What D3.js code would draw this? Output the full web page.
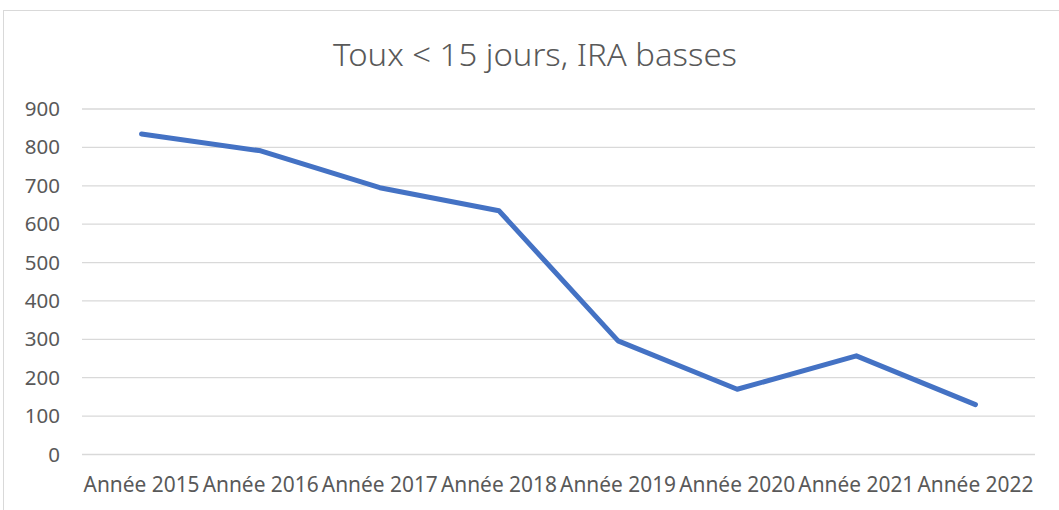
<!DOCTYPE html>
<html>
<head>
<meta charset="utf-8">
<script src="https://cdn.jsdelivr.net/npm/d3@7"></script>
<style>
  html, body { margin: 0; padding: 0; background: #fff; }
  svg { display: block; }
</style>
</head>
<body>
<svg id="chart" width="1059" height="510"></svg>
<script>
// Data
const categories = ["Année 2015", "Année 2016", "Année 2017", "Année 2018",
                    "Année 2019", "Année 2020", "Année 2021", "Année 2022"];
const values = [835, 791, 695, 635, 296, 170, 257, 130];
const yTicks = [0, 100, 200, 300, 400, 500, 600, 700, 800, 900];
const title = "Toux < 15 jours, IRA basses";

const svg = d3.select("#chart");
const W = 1059, H = 510;
const margin = { left: 82, right: 24, top: 109, bottom: 55.5 };
const font = "'Noto Sans', 'Open Sans', sans-serif";
const textColor = "#595959";

// Chart frame
svg.append("rect")
  .attr("x", 3.5).attr("y", 10.5)
  .attr("width", 1100).attr("height", 600)
  .attr("fill", "#fff").attr("stroke", "#d9d9d9").attr("stroke-width", 1);

const x = d3.scaleBand()
  .domain(categories)
  .range([margin.left, W - margin.right])
  .paddingInner(0).paddingOuter(0);

const y = d3.scaleLinear()
  .domain([0, 900])
  .range([H - margin.bottom, margin.top]);

// Gridlines
svg.append("g")
  .selectAll("line")
  .data(yTicks)
  .join("line")
  .attr("x1", margin.left).attr("x2", W - margin.right)
  .attr("y1", d => y(d)).attr("y2", d => y(d))
  .attr("stroke", "#d9d9d9").attr("stroke-width", 1.3);

// Y axis labels
const yAxis = svg.append("g")
  .attr("transform", `translate(${margin.left},0)`)
  .call(d3.axisLeft(y).tickValues(yTicks).tickSize(0).tickPadding(22));
yAxis.select(".domain").remove();
yAxis.selectAll("text")
  .attr("fill", textColor)
  .style("font-family", font)
  .style("font-size", "20.5px");

// X axis labels
const xAxis = svg.append("g")
  .attr("transform", `translate(0,${y(0)})`)
  .call(d3.axisBottom(x).tickSize(0).tickPadding(23));
xAxis.select(".domain").remove();
xAxis.selectAll("text")
  .attr("fill", textColor)
  .style("font-family", font)
  .style("font-size", "21px")
  .attr("textLength", 116)
  .attr("lengthAdjust", "spacingAndGlyphs");

// Series line
const line = d3.line()
  .x((d, i) => x(categories[i]) + x.bandwidth() / 2)
  .y(d => y(d));

svg.append("path")
  .datum(values)
  .attr("d", line)
  .attr("fill", "none")
  .attr("stroke", "#4472C4")
  .attr("stroke-width", 5)
  .attr("stroke-linecap", "round")
  .attr("stroke-linejoin", "round");

// Title
svg.append("text")
  .attr("x", 535).attr("y", 66)
  .attr("text-anchor", "middle")
  .attr("fill", textColor)
  .style("font-family", font)
  .style("font-weight", 300)
  .style("font-size", "32px")
  .attr("textLength", 404)
  .attr("lengthAdjust", "spacingAndGlyphs")
  .text(title);
</script>
</body>
</html>
